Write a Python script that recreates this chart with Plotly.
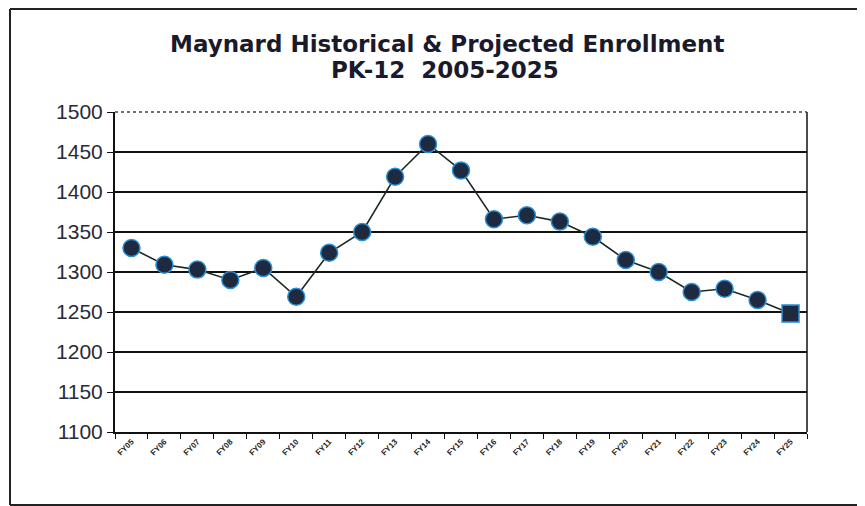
import plotly.graph_objects as go

years = [f"FY{y:02d}" for y in range(5, 26)]
enrollment = [1330, 1309, 1303, 1290, 1305, 1269, 1324, 1350, 1419, 1460, 1427,
              1366, 1371, 1363, 1344, 1315, 1300, 1275, 1279, 1265, 1248]
marker_symbols = ["circle"] * 20 + ["square"]

title_line1 = "Maynard Historical & Projected Enrollment"
title_line2 = "PK-12  2005-2025"
font_family = "Liberation Sans, Arial, sans-serif"
title_family = "DejaVu Sans, Liberation Sans, sans-serif"

fig = go.Figure()
fig.add_trace(go.Scatter(
    x=years, y=enrollment, mode="lines+markers",
    line=dict(color="#1c2a26", width=1.6),
    marker=dict(size=17, color="#1d2a3f", symbol=marker_symbols,
                line=dict(color="#2a8fd6", width=1.5)),
    showlegend=False,
))

bx0, bx1, by0, by1 = -105/692, 1.3, -73/320, 1 + 103/320
border = dict(color="#222", width=2)

fig.update_layout(
    width=865, height=506,
    paper_bgcolor="white", plot_bgcolor="white",
    margin=dict(l=107, r=66, t=104, b=82),
    xaxis=dict(
        type="category", range=[-0.5, 20.5],
        showgrid=False, showline=True, linecolor="#111", linewidth=2,
        ticks="outside", tickson="boundaries", ticklen=5, tickcolor="#111",
        tickangle=-45, tickfont=dict(family=font_family, size=8, color="#222", weight="bold"),
    ),
    yaxis=dict(
        range=[1100, 1500], dtick=50, tick0=1100,
        showgrid=True, gridcolor="#111", gridwidth=2,
        showline=True, linecolor="#111", linewidth=2,
        ticks="outside", ticklen=6, tickcolor="#111",
        tickfont=dict(family=font_family, size=21, color="#2a2a35"),
        zeroline=False,
    ),
    annotations=[
        dict(text=title_line1, xref="paper", yref="paper", x=0.48, y=1.2125,
             xanchor="center", yanchor="middle", showarrow=False,
             font=dict(family=title_family, size=23, color="#1a1a2a", weight="bold")),
        dict(text=title_line2, xref="paper", yref="paper", x=0.477, y=1.13,
             xanchor="center", yanchor="middle", showarrow=False,
             font=dict(family=title_family, size=23, color="#1a1a2a", weight="bold")),
    ],
    shapes=[
        dict(type="line", xref="paper", yref="paper", x0=1, x1=1, y0=0, y1=1,
             line=dict(color="#111", width=1.5)),
        dict(type="line", xref="paper", yref="paper", x0=0, x1=1, y0=1, y1=1,
             line=dict(color="#444", width=1.5, dash="dot")),
        dict(type="line", xref="paper", yref="paper", x0=bx0, x1=bx0, y0=by0, y1=by1, line=border),
        dict(type="line", xref="paper", yref="paper", x0=bx0, x1=bx1, y0=by1, y1=by1, line=border),
        dict(type="line", xref="paper", yref="paper", x0=bx0, x1=bx1, y0=by0, y1=by0, line=border),
    ],
)

fig.write_html("out.html")
